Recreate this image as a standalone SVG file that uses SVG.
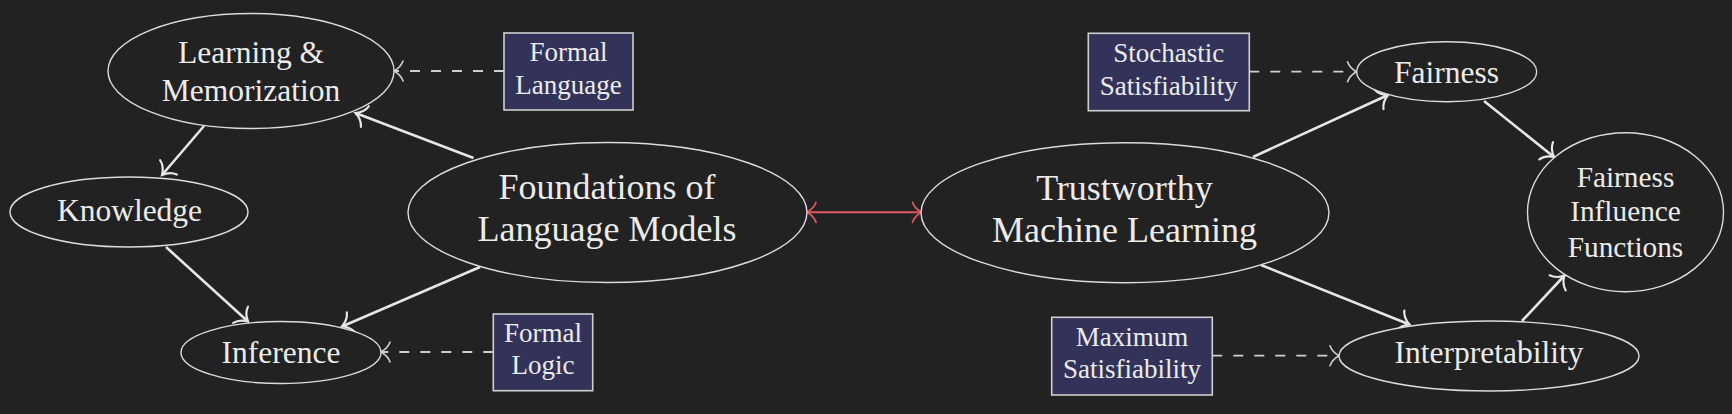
<svg xmlns="http://www.w3.org/2000/svg" width="1732" height="414" viewBox="0 0 1732 414">
<defs>
<style>
.bg{fill:#222222}
.node ellipse{fill:#222222;stroke:#dcdcdc;stroke-width:1.4}
.box rect{fill:#33335a;stroke:#cfcfcf;stroke-width:1.6}
text{font-family:'Liberation Serif','Times New Roman',serif;fill:#ebebeb;text-anchor:middle}
.t{font-size:31.5px}
.tb{font-size:36px}
.ts{font-size:29.3px}
.tx{font-size:27px}
.edge{fill:none;stroke:#e6e6e6;stroke-width:2.6;marker-end:url(#arr)}
.dash{fill:none;stroke:#cfcfcf;stroke-width:1.8;stroke-dasharray:10 11;marker-end:url(#arrThin)}
.red{fill:none;stroke:#e0575c;stroke-width:2;marker-start:url(#arrRed);marker-end:url(#arrRed)}
</style>
<marker id="arr" markerUnits="userSpaceOnUse" viewBox="-14 -14 18 28" refX="0" refY="0" markerWidth="18" markerHeight="28" orient="auto" overflow="visible">
<path d="M-10,-11 Q-8,-4 0,0 Q-8,4 -10,11" fill="none" stroke="#e6e6e6" stroke-width="2.2" stroke-linecap="round"/>
</marker>
<marker id="arrThin" markerUnits="userSpaceOnUse" viewBox="-14 -14 18 28" refX="0" refY="0" markerWidth="18" markerHeight="28" orient="auto" overflow="visible">
<path d="M-9,-10 Q-7,-4 0,0 Q-7,4 -9,10" fill="none" stroke="#cfcfcf" stroke-width="1.6" stroke-linecap="round"/>
</marker>
<marker id="arrRed" markerUnits="userSpaceOnUse" viewBox="-14 -14 18 28" refX="0" refY="0" markerWidth="18" markerHeight="28" orient="auto-start-reverse" overflow="visible">
<path d="M-9,-10 Q-7,-4 0,0 Q-7,4 -9,10" fill="none" stroke="#e0575c" stroke-width="1.8" stroke-linecap="round"/>
</marker>
</defs>
<rect class="bg" x="0" y="0" width="1732" height="414"/>

<g id="connectors">
<path class="edge" d="M204,126 L162,175"/>
<path class="edge" d="M166,247 L248,321.5"/>
<path class="edge" d="M473.5,158 L355.5,113"/>
<path class="edge" d="M480,267 L342,326.5"/>
<path class="edge" d="M1253,157 L1388,95"/>
<path class="edge" d="M1261,265 L1409.5,324.5"/>
<path class="edge" d="M1484,101 L1554,157"/>
<path class="edge" d="M1522,321 L1564.5,275.5"/>
<path class="dash" d="M504,71 L394,71"/>
<path class="dash" d="M493.3,352 L381,352"/>
<path class="dash" d="M1249.3,71.7 L1356.5,71.7"/>
<path class="dash" d="M1212.3,355.7 L1339,355.7"/>
<path class="red" d="M807,212.3 L921.5,212.3"/>
</g>

<g id="learning" class="node">
<ellipse cx="251" cy="71" rx="143" ry="57.5"/>
<text class="t" x="251" y="63.3">Learning &amp;</text>
<text class="t" x="251" y="100.7">Memorization</text>
</g>
<g id="knowledge" class="node">
<ellipse cx="129" cy="212" rx="119" ry="35"/>
<text class="t" x="129.5" y="220.5">Knowledge</text>
</g>
<g id="inference" class="node">
<ellipse cx="281" cy="352.5" rx="100" ry="31"/>
<text class="t" x="281" y="362.7">Inference</text>
</g>
<g id="foundations" class="node">
<ellipse cx="607.5" cy="212.5" rx="199.5" ry="70"/>
<text class="tb" x="607" y="199.3">Foundations of</text>
<text class="tb" x="607" y="241">Language Models</text>
</g>
<g id="trustworthy" class="node">
<ellipse cx="1125" cy="212.7" rx="204" ry="70"/>
<text class="tb" x="1124.5" y="200">Trustworthy</text>
<text class="tb" x="1124.5" y="241.7">Machine Learning</text>
</g>
<g id="fairness" class="node">
<ellipse cx="1446.7" cy="71.7" rx="90" ry="30"/>
<text class="t" x="1446.5" y="82.7">Fairness</text>
</g>
<g id="fif" class="node">
<ellipse cx="1625.5" cy="212.2" rx="98" ry="79.5"/>
<text class="ts" x="1625.5" y="186.7">Fairness</text>
<text class="ts" x="1625.5" y="221">Influence</text>
<text class="ts" x="1625.5" y="256.7">Functions</text>
</g>
<g id="interpretability" class="node">
<ellipse cx="1489" cy="356" rx="150" ry="35"/>
<text class="t" x="1489" y="363.3">Interpretability</text>
</g>
<g id="formal-language" class="box">
<rect x="504" y="33" width="129" height="77"/>
<text class="tx" x="568.5" y="60.7">Formal</text>
<text class="tx" x="568.5" y="94">Language</text>
</g>
<g id="formal-logic" class="box">
<rect x="493.3" y="314" width="99.4" height="76.7"/>
<text class="tx" x="543" y="341.7">Formal</text>
<text class="tx" x="543" y="374.3">Logic</text>
</g>
<g id="stochastic-sat" class="box">
<rect x="1088.3" y="33.3" width="161" height="77.4"/>
<text class="tx" x="1168.8" y="61.7">Stochastic</text>
<text class="tx" x="1168.8" y="95">Satisfiability</text>
</g>
<g id="maximum-sat" class="box">
<rect x="1051.7" y="317.3" width="160.6" height="77.7"/>
<text class="tx" x="1132" y="345.7">Maximum</text>
<text class="tx" x="1132" y="378.3">Satisfiability</text>
</g>
</svg>
